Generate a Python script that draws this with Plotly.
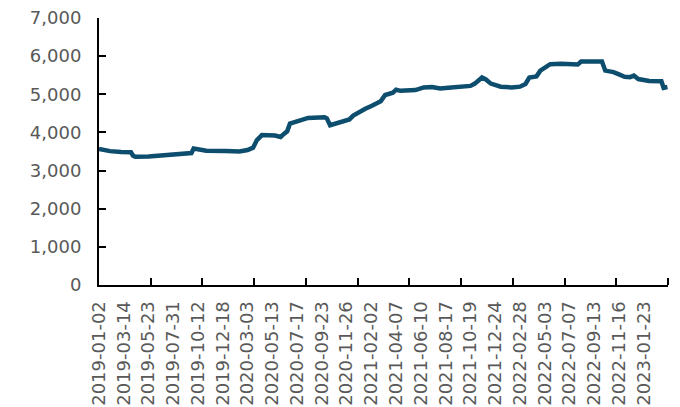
import plotly.graph_objects as go

# Trading-day index (position along the category axis) and price level
day_index = [0, 8, 20, 40, 58, 62, 66, 90, 110, 130, 150, 168, 172, 180, 195, 230,
             255, 270, 280, 287, 296, 320, 330, 336, 342, 347, 360, 370, 380, 410,
             414, 420, 432, 445, 455, 462, 475, 484, 496, 505, 512, 520, 534, 540,
             548, 575, 590, 605, 620, 640, 660, 675, 683, 690, 696, 703, 712, 730,
             750, 765, 775, 782, 795, 802, 812, 820, 840, 870, 876, 895, 910, 914,
             920, 935, 945, 955, 965, 972, 980, 995, 1000, 1022, 1026, 1033]
price = [3570, 3540, 3510, 3490, 3480, 3390, 3360, 3370, 3400, 3430, 3440, 3460, 3580,
         3550, 3520, 3510, 3500, 3540, 3600, 3800, 3930, 3920, 3880, 3960, 4030, 4230,
         4290, 4310, 4380, 4400, 4370, 4190, 4250, 4310, 4340, 4440, 4560, 4620, 4700,
         4780, 4820, 4980, 5040, 5120, 5090, 5110, 5180, 5190, 5150, 5180, 5200, 5220,
         5280, 5350, 5440, 5390, 5280, 5200, 5180, 5200, 5270, 5440, 5470, 5620, 5720,
         5790, 5800, 5780, 5860, 5870, 5880, 5860, 5620, 5580, 5520, 5460, 5450, 5490,
         5400, 5360, 5350, 5340, 5170, 5190]

# Category labels shown every 45 trading days
date_labels = ["2019-01-02", "2019-03-14", "2019-05-23", "2019-07-31", "2019-10-12",
               "2019-12-18", "2020-03-03", "2020-05-13", "2020-07-17", "2020-09-23",
               "2020-11-26", "2021-02-02", "2021-04-07", "2021-06-10", "2021-08-17",
               "2021-10-19", "2021-12-24", "2022-02-28", "2022-05-03", "2022-07-07",
               "2022-09-13", "2022-11-16", "2023-01-23"]
label_step = 45
tick_step = 94
n_days = 1034

label_pos = [i * label_step for i in range(len(date_labels))]
tick_pos = [k * tick_step for k in range(1, n_days // tick_step + 1)]

fig = go.Figure(go.Scatter(
    x=day_index, y=price, mode="lines",
    line=dict(color="#0D4D6E", width=4.5),
    showlegend=False,
))

font_family = "DejaVu Sans"
fig.update_layout(
    width=680, height=407,
    margin=dict(l=99, r=12, t=18, b=122, autoexpand=False),
    paper_bgcolor="white", plot_bgcolor="white",
    font=dict(family=font_family, color="#595959"),
)
fig.update_xaxes(
    range=[0, n_days], showgrid=False, zeroline=False,
    showline=True, linecolor="black", linewidth=2,
    tickmode="array", tickvals=label_pos, ticktext=date_labels,
    tickangle=-90, ticks="", tickfont=dict(size=18, family=font_family, color="#595959"),
    ticklabelstandoff=7,
    minor=dict(tickmode="array", tickvals=tick_pos, ticks="inside",
               ticklen=7, tickwidth=2, tickcolor="black"),
    automargin=False,
)
fig.update_yaxes(
    range=[0, 7000], dtick=1000, tickformat=",", showgrid=False, zeroline=False,
    showline=True, linecolor="black", linewidth=2,
    ticks="inside", ticklen=7, tickwidth=2, tickcolor="black",
    tickfont=dict(size=18, family=font_family, color="#595959"),
    ticklabelstandoff=12,
    automargin=False,
)

fig.write_html("out.html")
